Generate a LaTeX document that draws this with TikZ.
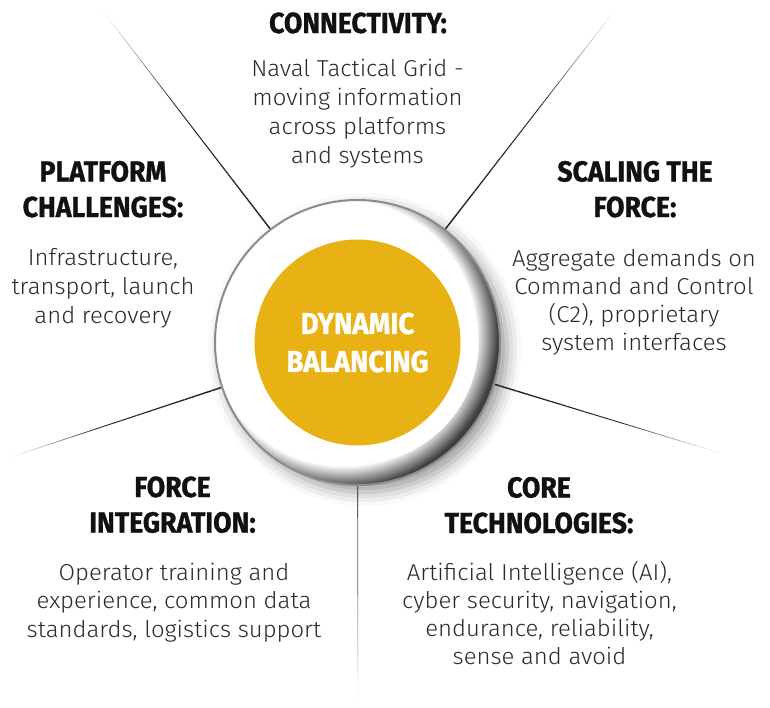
\documentclass[tikz,border=0pt]{standalone}
\usepackage{fontspec}
\usetikzlibrary{shadows.blur,calc}
\IfFontExistsTF{FiraSans-Light.otf}{\newfontfamily\bodyfont[FakeStretch=1.04]{FiraSans-Light.otf}}{%
  \IfFontExistsTF{Fira Sans Light}{\newfontfamily\bodyfont[FakeStretch=1.04]{Fira Sans Light}}{\newfontfamily\bodyfont[FakeStretch=1.04]{Fira Sans}}}
\newfontfamily\headfont[FakeStretch=0.92,FakeBold=1]{Fira Sans}
\definecolor{gold}{HTML}{E8B114}
\definecolor{ringgray}{HTML}{8C8C8C}
\definecolor{inkdark}{HTML}{111111}
\definecolor{bodyink}{HTML}{2A2A2A}
\newcommand\spokeline[4]{% start, end, darkness, width
  \foreach \i in {0,...,39}{%
    \pgfmathsetmacro\pa{\i/40}%
    \pgfmathsetmacro\pb{(\i+1)/40}%
    \pgfmathsetmacro\pw{#4*(1-0.75*\pa)}%
    \pgfmathsetmacro\pk{\pa<0.55 ? #3 : #3*(1-\pa)/0.45}%
    \draw[line width=\pw pt, draw=black!\pk] ($(#1)!\pa!(#2)$) -- ($(#1)!\pb!(#2)$);
  }}
\tikzset{
  headtxt/.style={font=\headfont\bfseries\fontsize{29}{35.5}\selectfont, text=inkdark, align=center, inner sep=0pt, anchor=base},
  bodytxt/.style={font=\bodyfont\fontsize{23}{28.5}\selectfont, text=bodyink, align=center, inner sep=0pt, anchor=base},
}
\begin{document}
\begin{tikzpicture}[x=1pt,y=-1pt]
\useasboundingbox (0,0) rectangle (770,707);
\coordinate (c) at (357.5,342.5);
% outer disc with soft outside shadow
\node[circle, minimum size=285pt, inner sep=0pt, fill=white,
  blur shadow={shadow xshift=7pt, shadow yshift=-7pt, shadow blur radius=14pt, shadow opacity=40}] (outer) at (c) {};
% spokes
\coordinate (e1) at (102,10);
\coordinate (e2) at (615,10);
\coordinate (e3) at (8,458);
\coordinate (e4) at (720,453);
\coordinate (e5) at (358,707);
\coordinate (s1) at ($(c)!142.5pt!(e1)$);
\coordinate (s2) at ($(c)!142.5pt!(e2)$);
\coordinate (s3) at ($(c)!142.5pt!(e3)$);
\coordinate (s4) at ($(c)!142.5pt!(e4)$);
\coordinate (s5) at ($(c)!142.5pt!(e5)$);
\spokeline{s1}{e1}{85}{1.5}
\spokeline{s2}{e2}{85}{1.5}
\spokeline{s3}{e3}{85}{1.5}
\spokeline{s4}{e4}{85}{1.5}
\spokeline{s5}{e5}{65}{1.1}
% inner ring shading
\coordinate (cs) at ($(c)+(-14,-9)$);
\begin{scope}
  \clip (c) circle (141.5pt);
  \foreach \k in {0,...,35}{%
    \pgfmathsetmacro\rr{160-\k*0.8}%
    \pgfmathsetmacro\dd{max(0,min(75,75*(\rr-133)/22))}%
    \fill[black!\dd] (cs) circle (\rr pt);
  }
  \fill[white] (cs) circle (131pt);
\end{scope}
\fill[white] (c) circle (121pt);
\draw[ringgray, line width=2pt] (c) circle (142.5pt);
% centre disc
\node[circle, fill=gold, minimum size=206pt, inner sep=0pt, text=white,
  font=\headfont\bfseries\fontsize{30}{38}\selectfont, align=center] (core) at (c) {DYNAMIC\\BALANCING};
% texts (anchored at the baseline of their last line)
\node[headtxt] (h1) at (358,33) {CONNECTIVITY:};
\node[bodytxt, font=\bodyfont\fontsize{23}{28.7}\selectfont] (b1) at (357.5,163) {Naval Tactical Grid -\\moving information\\across platforms\\and systems};
\node[headtxt] (h2) at (103,217) {PLATFORM\\CHALLENGES:};
\node[bodytxt, font=\bodyfont\fontsize{23}{29}\selectfont] (b2) at (103,323) {Infrastructure,\\transport, launch\\and recovery};
\node[headtxt] (h3) at (635,217) {SCALING THE\\FORCE:};
\node[bodytxt, font=\bodyfont\fontsize{23}{27.7}\selectfont] (b3) at (634,350) {Aggregate demands on\\Command and Control\\(C2), proprietary\\system interfaces};
\node[headtxt] (h4) at (172.5,532.5) {FORCE\\INTEGRATION:};
\node[bodytxt] (b4) at (174,637) {Operator training and\\experience, common data\\standards, logistics support};
\node[headtxt] (h5) at (539,533) {CORE\\TECHNOLOGIES:};
\node[bodytxt, font=\bodyfont\fontsize{23}{28}\selectfont] (b5) at (539.5,664) {Artificial Intelligence (AI),\\cyber security, navigation,\\endurance, reliability,\\sense and avoid};
\end{tikzpicture}
\end{document}
